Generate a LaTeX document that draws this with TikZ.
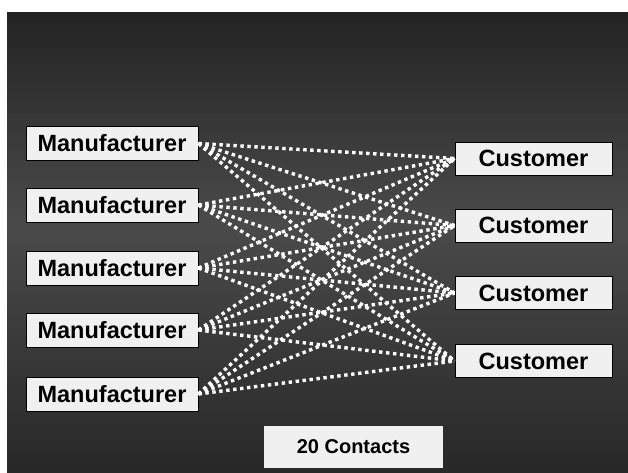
\documentclass[tikz,border=0pt]{standalone}
\usepackage{fontspec}
\setmainfont{Liberation Sans}
\definecolor{boxfill}{HTML}{F0F0F0}
\definecolor{bgtop}{HTML}{232323}
\definecolor{bgmid}{HTML}{4A4A4A}
\definecolor{bgbot}{HTML}{282828}
\pgfdeclareverticalshading{bgshade}{100bp}{color(0bp)=(bgbot); color(25bp)=(bgbot); color(52bp)=(bgmid); color(75bp)=(bgtop); color(100bp)=(bgtop)}
\begin{document}
\begin{tikzpicture}[x=1pt,y=-1pt,
  box/.style={draw=black,line width=0.8pt,fill=boxfill,inner sep=0pt,font=\fontsize{23.5}{26}\selectfont\bfseries},
  mbox/.style={box,minimum width=172pt,minimum height=34pt},
  cbox/.style={box,minimum width=157pt,minimum height=33pt},
  link/.style={draw=white,line width=3.4pt,dash pattern=on 3.4pt off 3.6pt}]
\useasboundingbox (0,0) rectangle (628,472);
\fill[white] (0,0) rectangle (628,472);
\shade[shading=bgshade] (7,12) rectangle (628,472);
\node[mbox] (m1) at (112,143.5) {Manufacturer};
\node[mbox] (m2) at (112,205) {Manufacturer};
\node[mbox] (m3) at (112,268) {Manufacturer};
\node[mbox] (m4) at (112,330) {Manufacturer};
\node[mbox] (m5) at (112,394) {Manufacturer};
\node[cbox] (c1) at (533.5,158.5) {Customer};
\node[cbox] (c2) at (533.5,225.5) {Customer};
\node[cbox] (c3) at (533.5,293) {Customer};
\node[cbox] (c4) at (533.5,361) {Customer};
\node[fill=boxfill,minimum width=179pt,minimum height=42pt,inner sep=0pt,font=\fontsize{20}{24}\selectfont\bfseries] (n) at (353.5,447) {20 Contacts};
\foreach \m in {1,...,5}{
  \foreach \c in {1,...,4}{
    \draw[link] (m\m.east) -- (c\c.west);
  }
}
\end{tikzpicture}
\end{document}
